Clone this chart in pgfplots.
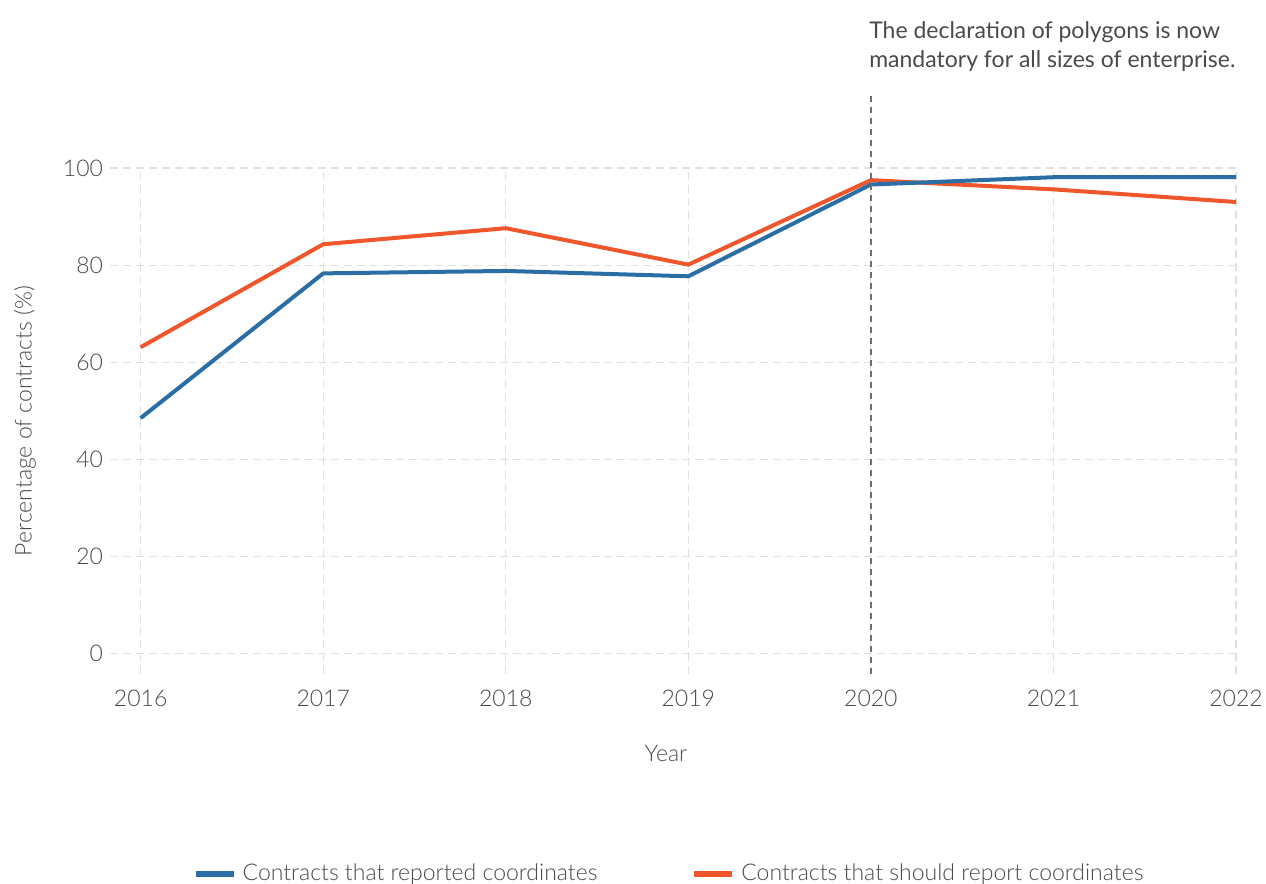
\documentclass[border=0pt]{standalone}
\usepackage{fontspec}
\setmainfont{Lato}
\newfontfamily\lightfont{Lato Light}
\usepackage{pgfplots}
\pgfplotsset{compat=1.18}
\definecolor{blueline}{HTML}{2A6EA5}
\definecolor{orangeline}{HTML}{F0562B}
\definecolor{txt}{HTML}{4A4A4A}
\definecolor{gridc}{HTML}{E0E0E0}

\begin{document}
\begin{tikzpicture}
\useasboundingbox (-55pt,-105pt) rectangle (578pt,337pt);
\begin{axis}[
    at={(0pt,0pt)}, anchor=south west,
    width=563pt, height=253pt, scale only axis,
    xmin=2015.832, xmax=2022,
    ymin=-4.2, ymax=100,
    clip=false,
    axis line style={draw=none},
    tick style={draw=none},
    xtick={2016,2017,2018,2019,2020,2021,2022},
    xticklabels={2016,2017,2018,2019,2020,2021,2022},
    ytick={0,20,40,60,80,100},
    xmajorgrids, ymajorgrids,
    grid style={gridc, line width=0.6pt, dash pattern=on 4pt off 2.5pt},
    ticklabel style={font=\lightfont\fontsize{11.5}{13}\selectfont, text=txt},
    xticklabel style={yshift=-4.3pt},
    /pgf/number format/assume math mode=true,
    xlabel={Year},
    ylabel={Percentage of contracts (\%)},
    label style={font=\lightfont\fontsize{11.5}{13}\selectfont, text=txt},
    xlabel style={at={(axis description cs:0.5,0)}, anchor=base, yshift=-43.8pt, xshift=-3.5pt},
    ylabel style={at={(axis description cs:0,0.5)}, anchor=center, yshift=42.5pt},
    legend columns=2,
    reverse legend,
    legend style={at={(axis description cs:0.5,0)}, anchor=center, yshift=-100pt, xshift=-1pt,
        draw=none, fill=none, font=\lightfont\fontsize{11.5}{13}\selectfont, text=txt,
        nodes={inner sep=3pt},
        /tikz/every even column/.append style={column sep=44pt}},
    legend image code/.code={\draw[#1, line width=3pt] (0pt,0pt) -- (19pt,0pt);},
]
\addplot[orangeline, line width=2pt, line join=round] coordinates {
    (2016,63.1) (2017,84.3) (2018,87.6) (2019,80.1) (2020,97.5) (2021,95.6) (2022,93.0)};
\addlegendentry{Contracts that should report coordinates}
\addplot[blueline, line width=2pt, line join=round] coordinates {
    (2016,48.5) (2017,78.3) (2018,78.8) (2019,77.7) (2020,96.6) (2021,98.1) (2022,98.1)};
\addlegendentry{Contracts that reported coordinates}
\draw[txt!80, line width=0.7pt, dash pattern=on 3pt off 2.5pt] (axis cs:2020,-4.2) -- (axis cs:2020,115.7);
\node[anchor=south west, inner sep=0pt, align=left, text=txt,
      font=\fontsize{11.5}{14.5}\selectfont, xshift=-1pt]
    at (axis cs:2020,119.8) {The declaration of polygons is now\\mandatory for all sizes of enterprise.};
\end{axis}
\end{tikzpicture}
\end{document}
